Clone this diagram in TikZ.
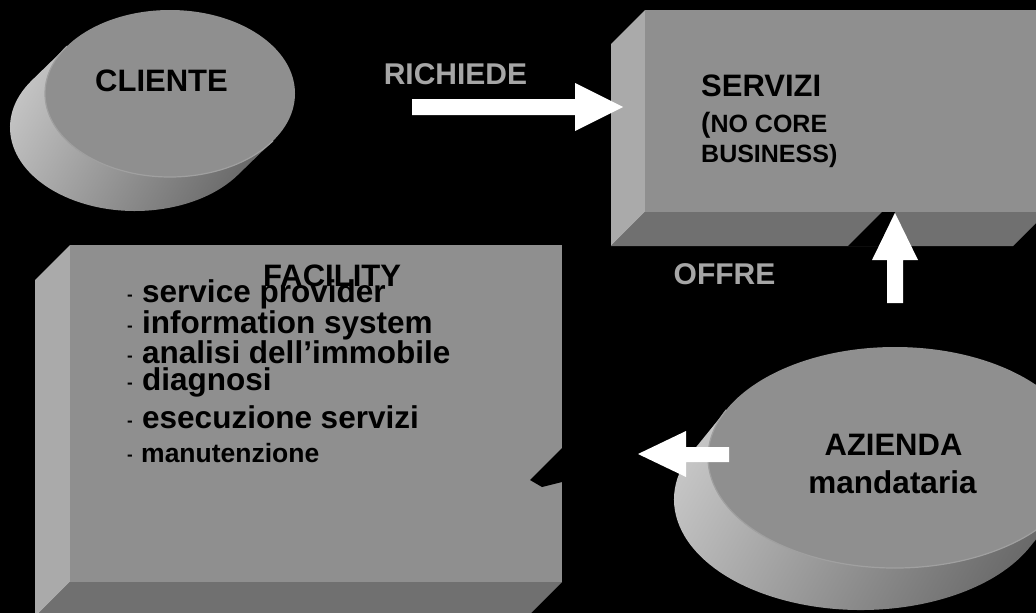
\documentclass[tikz,border=0pt]{standalone}
\usepackage{fontspec}
\setmainfont{Liberation Sans}
\definecolor{frontgray}{RGB}{143,143,143}
\definecolor{sidegray}{RGB}{170,170,170}
\definecolor{bottomgray}{RGB}{112,112,112}
\definecolor{disclight}{RGB}{196,196,196}
\definecolor{discdark}{RGB}{104,104,104}
\definecolor{disctop}{RGB}{143,143,143}
\definecolor{rimgray}{RGB}{160,160,160}
\definecolor{labelgray}{RGB}{166,166,166}

% extruded box: front face (x1,y1)-(x2,y2), depth k towards lower left
\newcommand\bevelbox[5]{%
  \fill[sidegray] (#1,#2) -- (#1-#5,#2+#5) -- (#1-#5,#4+#5) -- (#1,#4) -- cycle;
  \fill[bottomgray] (#1,#4) -- (#1-#5,#4+#5) -- (#3-#5,#4+#5) -- (#3,#4) -- cycle;
  \fill[frontgray] (#1,#2) rectangle (#3,#4);
}

% extruded disc: name, centre x, centre y, x radius, y radius, offset dx, dy
\newcommand\drawdisc[7]{%
  \pgfmathsetmacro\tz{atan2(-(#5)*(#6),(#4)*(#7))}
  \coordinate (#1) at (#2,#3);
  \shade[top color=disclight, bottom color=discdark, shading angle=60]
    (#1) ++(\tz+180:#4 and #5) -- ++(#6,#7)
    arc[start angle=\tz+180, end angle=\tz, x radius=#4, y radius=#5]
    -- ++(-#6,-#7)
    arc[start angle=\tz, end angle=\tz+180, x radius=#4, y radius=#5] -- cycle;
  \fill[disctop] (#1) ellipse[x radius=#4, y radius=#5];
  \draw[rimgray, line width=1.2pt] (#1) ++(\tz:#4 and #5)
    arc[start angle=\tz, end angle=\tz+180, x radius=#4, y radius=#5];
}

\tikzset{
  blockarrow/.style={fill=white},
  bigtext/.style={font=\fontsize{31}{31}\selectfont\bfseries, text=black, inner sep=0pt},
  midtext/.style={font=\fontsize{25}{25}\selectfont\bfseries, text=black, inner sep=0pt},
  itemtext/.style={font=\fontsize{31.5}{31.5}\selectfont\bfseries, text=black, inner sep=0pt, anchor=base west},
  smallitem/.style={font=\fontsize{26.5}{26.5}\selectfont\bfseries, text=black, inner sep=0pt, anchor=base west},
  dashmark/.style={font=\fontsize{17}{17}\selectfont\bfseries, text=black, inner sep=0pt, anchor=base west},
  verbtext/.style={font=\fontsize{30}{30}\selectfont\bfseries, text=labelgray, inner sep=0pt, anchor=base},
}

\begin{document}
\begin{tikzpicture}[x=1pt,y=-1pt]
\useasboundingbox (0,0) rectangle (1036,613);
\fill[black] (0,0) rectangle (1036,613);
\clip (0,0) rectangle (1036,613);

% shapes
\drawdisc{cliente}{170}{93.5}{125}{83.5}{-35}{34}
\bevelbox{645}{10}{1047}{212}{34}
\bevelbox{70}{245}{562}{582}{35}
\drawdisc{azienda}{895}{457.5}{187}{110.5}{-34}{42}

% dark cut-outs next to the arrow heads
\fill[black] (848,246) -- (882,212) -- (895,212) -- (879,246) -- cycle;
\fill[black] (530,480) -- (562,448) -- (562,482) -- (542,487) -- cycle;

% block arrows
\coordinate (rA) at (412,107);
\coordinate (rB) at (623,107);
\fill[blockarrow] (rA) ++(0,-8) -- (575,99) -- (575,83) -- (rB) -- (575,131) -- (575,115) -- (412,115) -- cycle;
\coordinate (uA) at (895,303);
\coordinate (uB) at (895,213);
\fill[blockarrow] (887,303) -- (887,260) -- (872,260) -- (uB) -- (918,260) -- (903,260) -- (903,303) -- cycle;
\coordinate (lA) at (729,454.5);
\coordinate (lB) at (638,454);
\fill[blockarrow] (729,447) -- (686,447) -- (686,431) -- (lB) -- (686,477) -- (686,462) -- (729,462) -- cycle;

% labels
\node[bigtext, anchor=base] (clientelabel) at (161.5,91) {CLIENTE};
\node[bigtext, anchor=base west] (servizilabel) at (701,96) {SERVIZI};
\node[midtext, anchor=base west] (nocore) at (701,132) {{\fontsize{28}{28}\selectfont(}NO CORE};
\node[midtext, anchor=base west] (business) at (701,162) {BUSINESS)};
\node[bigtext, anchor=base] (aziendalabel) at (893.5,455) {AZIENDA};
\node[bigtext, anchor=base, font=\fontsize{31.5}{31.5}\selectfont\bfseries] (mandataria) at (892.5,493) {mandataria};
\node[verbtext] (richiede) at (455.5,84) {RICHIEDE};
\node[verbtext] (offre) at (724.5,284) {OFFRE};

\node[bigtext, anchor=base west] (facilitylabel) at (263,286) {FACILITY};
\foreach \y/\txt [count=\i] in {302/service provider, 333/information system, 363/analisi dell’immobile, 390/diagnosi, 428/esecuzione servizi}{
  \node[dashmark] (dash\i) at (127,\y-2) {-};
  \node[itemtext] (item\i) at (142,\y) {\txt};
}
\node[dashmark] (dash6) at (127,460) {-};
\node[smallitem] (item6) at (141,462) {manutenzione};
\end{tikzpicture}
\end{document}
